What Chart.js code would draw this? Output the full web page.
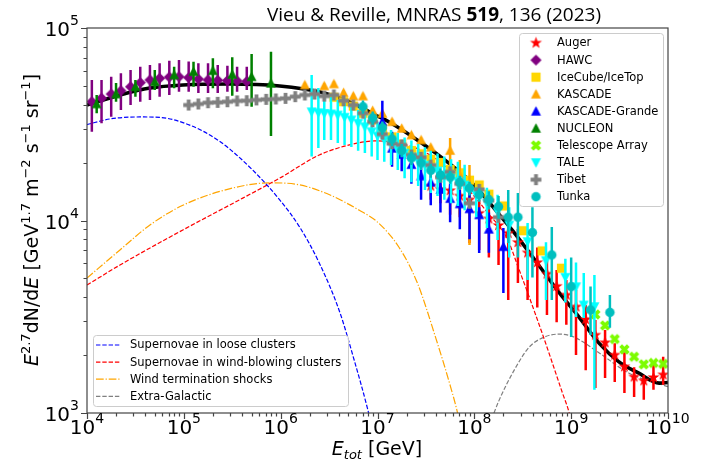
<!DOCTYPE html>
<html>
<head>
<meta charset="utf-8">
<title>Cosmic-ray all-particle spectrum</title>
<script src="https://cdn.jsdelivr.net/npm/chart.js@4.4.1/dist/chart.umd.min.js"></script>
<style>
  html, body { margin: 0; padding: 0; background: #fff; }
  canvas { display: block; }
</style>
</head>
<body>
<canvas id="spectrum" width="701" height="464"></canvas>
<script>
// ---- model curves: E [GeV] and E^2.7 dN/dE ----
const totalE = [1e4, 2.19e4, 4.47e4, 9.77e4, 2.95e5, 9.77e5, 2.51e6, 5.13e6, 9.55e6, 1.32e7, 2.88e7, 5.5e7, 9.55e7, 1.82e8, 2.45e8, 5.5e8, 7.59e8, 1.2e9, 1.95e9, 3.09e9, 5.0e9, 8.13e9, 1e10];
const totalF = [39800, 44900, 48800, 50600, 51200, 50000, 46600, 41300, 35300, 32500, 25200, 19800, 15600, 10700, 8930, 5210, 4190, 3160, 2300, 1850, 1610, 1430, 1440];

const looseE = [1e4, 1.73e4, 3.52e4, 5.66e4, 1.15e5, 2.34e5, 5.13e5, 9.77e5, 1.58e6, 2.51e6, 4.07e6, 5.75e6, 7.94e6, 1.05e7];
const looseF = [31500, 33700, 34500, 34300, 31300, 25800, 18300, 12800, 9200, 6000, 3350, 1880, 1040, 570];

const windE = [1e4, 2.19e4, 9.77e4, 2.95e5, 9.77e5, 2.51e6, 5.13e6, 9.34e6, 1.66e7, 3.47e7, 7.08e7, 1.43e8, 2.14e8, 2.91e8, 5.0e8, 8.13e8, 9.55e8, 1.1e9];
const windF = [4620, 5870, 8930, 12000, 16600, 21900, 24700, 25900, 25300, 21900, 16200, 10700, 8230, 5530, 2610, 1270, 1000, 724];

const wtsE = [1e4, 2.19e4, 4.47e4, 9.77e4, 2.95e5, 7.76e5, 1.58e6, 3.2e6, 6.49e6, 1e7, 1.66e7, 2.57e7, 4.0e7, 5.8e7, 6.68e7, 7.35e7, 8.5e7];
const wtsF = [5030, 7030, 9480, 12000, 14600, 15700, 15300, 13600, 11300, 9810, 7280, 4760, 2450, 1320, 1010, 800, 560];

const egE = [1.43e8, 1.81e8, 2.58e8, 3.69e8, 5.27e8, 7.52e8, 1.07e9, 1.95e9, 3.96e9, 1e10];
const egF = [867, 1170, 1670, 2200, 2480, 2570, 2480, 2050, 1610, 1370];

// ---- measurements ----
const augerE = [3.548e7, 4.467e7, 5.623e7, 7.079e7, 8.913e7, 1.122e8, 1.413e8, 1.778e8, 2.239e8, 2.818e8, 3.548e8, 4.467e8, 5.623e8, 7.079e8, 8.913e8, 1.122e9, 1.413e9, 1.778e9, 2.239e9, 2.818e9, 3.548e9, 4.467e9, 5.623e9, 7.079e9, 8.913e9];
const augerF = [15100, 14500, 14300, 13400, 12800, 10900, 10200, 9420, 8580, 7690, 6790, 6050, 5270, 4550, 4100, 3560, 3060, 2540, 2320, 2000, 1740, 1540, 1470, 1530, 1580];
const augerHi = [16200, 15600, 15300, 14400, 13900, 12800, 12000, 11300, 10200, 9040, 8050, 7250, 6480, 5530, 4910, 4360, 3640, 3040, 2700, 2300, 2070, 1730, 1570, 1840, 1960];
const augerLo = [12800, 12300, 10700, 10400, 7650, 7030, 6430, 5870, 3860, 4730, 3860, 3530, 3230, 2960, 2870, 2000, 1670, 1350, 1520, 1450, 1270, 1210, 1170, 1320, 1400];

const hawcE = [1.122e4, 1.413e4, 1.778e4, 2.239e4, 2.818e4, 3.548e4, 4.467e4, 5.623e4, 7.079e4, 8.913e4, 1.122e5, 1.413e5, 1.778e5, 2.239e5, 2.818e5, 3.548e5, 4.467e5];
const hawcF = [41400, 43200, 45400, 47200, 49500, 52000, 53700, 54800, 55600, 55800, 55200, 54300, 53700, 53500, 53300, 53100, 52800];
const hawcHi = [53700, 53700, 55800, 58200, 60500, 62900, 64300, 65600, 67600, 68200, 66900, 65600, 65600, 64300, 63600, 62900, 62900];
const hawcLo = [28900, 32000, 34600, 37500, 39800, 41400, 42300, 44000, 44900, 46700, 46600, 46000, 46000, 46000, 46600, 46600, 47600];

const icetopE = [3.548e6, 4.467e6, 5.623e6, 7.079e6, 8.913e6, 1.122e7, 1.413e7, 1.778e7, 2.239e7, 2.818e7, 3.548e7, 4.467e7, 5.623e7, 7.079e7, 8.913e7, 1.122e8, 1.413e8, 1.995e8, 3.162e8, 5.012e8, 7.943e8];
const icetopF = [43700, 41400, 39300, 36100, 33300, 30100, 27200, 24900, 23100, 22200, 20800, 20000, 18400, 17700, 16200, 15300, 13700, 11900, 8850, 6950, 5650];

const kascadeE = [1.778e6, 2.818e6, 3.548e6, 4.467e6, 5.623e6, 7.079e6, 8.913e6, 1.122e7, 1.413e7, 1.778e7, 2.239e7, 2.818e7, 3.548e7, 5.623e7, 7.079e7, 8.913e7];
const kascadeF = [50600, 50000, 51200, 46100, 44300, 44300, 37200, 36000, 32600, 30100, 27800, 26200, 24000, 23100, 17200, 15300];
const kascadeHi = [52000, 51500, 52700, 47500, 45600, 45600, 38300, 37100, 33600, 31000, 28600, 27000, 24700, 26800, 20600, 19400];
const kascadeLo = [49200, 48600, 49800, 44800, 43000, 43000, 36100, 35000, 31600, 29200, 27000, 25400, 23300, 18600, 10700, 7460];

const grandeE = [1.122e7, 1.413e7, 1.778e7, 2.239e7, 2.818e7, 3.548e7, 4.467e7, 5.623e7, 7.079e7, 8.913e7, 1.122e8, 1.413e8, 1.995e8];
const grandeF = [32600, 23700, 22000, 19500, 17000, 15800, 14500, 13000, 12200, 11500, 10700, 9000, 7310];
const grandeHi = [41900, 28900, 25500, 23000, 19900, 18500, 17000, 15500, 14500, 14000, 11700, 11000, 9140];
const grandeLo = [31000, 19000, 18000, 15500, 12800, 12000, 11000, 9800, 9000, 8000, 6780, 6800, 4200];

const nucleonE = [1.259e4, 1.995e4, 3.162e4, 5.012e4, 7.943e4, 1.259e5, 1.995e5, 3.162e5, 5.012e5, 7.943e5];
const nucleonF = [40300, 45400, 49500, 52600, 57000, 59300, 60000, 57400, 55800, 51600];
const nucleonHi = [44900, 51800, 53700, 60500, 62900, 66800, 69600, 70500, 73300, 75300];
const nucleonLo = [36100, 41400, 44000, 47600, 48600, 49500, 48600, 44500, 39000, 27500];

const taE = [1.778e9, 2.239e9, 2.818e9, 3.548e9, 4.467e9, 5.623e9, 7.079e9, 8.913e9];
const taF = [3250, 2850, 2420, 2140, 1960, 1790, 1820, 1800];

const taleE = [2.09e6, 2.45e6, 2.82e6, 3.31e6, 3.89e6, 4.57e6, 5.37e6, 6.31e6, 7.41e6, 8.71e6, 1.0e7, 1.175e7, 1.38e7, 1.62e7, 1.905e7, 2.24e7, 2.63e7, 3.09e7, 3.55e7, 4.17e7, 4.9e7, 5.75e7, 6.76e7, 7.94e7, 1.047e8, 1.349e8, 1.738e8, 2.291e8, 3.548e8, 5.495e8, 8.71e8, 1.122e9, 1.349e9, 1.738e9];
const taleF = [36700, 36300, 36000, 35800, 35300, 34400, 33300, 32000, 30700, 28900, 27500, 26200, 24700, 23400, 22400, 21400, 20400, 19400, 18700, 18100, 17200, 16600, 16000, 15300, 13600, 12300, 11100, 9480, 7770, 6190, 5070, 4530, 3640, 3570];
const taleHi = [57000, 48800, 45900, 44000, 42300, 40800, 39000, 37500, 36200, 34100, 32600, 31300, 29500, 28500, 27000, 26000, 25000, 24000, 23000, 22300, 21500, 20800, 20200, 19500, 14900, 14800, 13600, 11700, 9700, 7700, 6330, 6050, 5330, 5210];
const taleLo = [21500, 23800, 26200, 26200, 25300, 24700, 24100, 23000, 22400, 21500, 20600, 20200, 19400, 18300, 16600, 15800, 15100, 14400, 13900, 13400, 12800, 12300, 11900, 11300, 10400, 9140, 7920, 6430, 4910, 3860, 3750, 3150, 3120, 1320];

const tibetE = [1.122e5, 1.413e5, 1.778e5, 2.239e5, 2.818e5, 3.548e5, 4.467e5, 5.623e5, 7.079e5, 8.913e5, 1.122e6, 1.413e6, 1.778e6, 2.239e6, 2.818e6, 3.548e6, 4.467e6, 5.623e6, 7.079e6, 8.913e6, 1.122e7, 1.413e7, 1.778e7, 2.239e7, 2.818e7, 3.548e7, 4.467e7, 5.623e7, 7.079e7, 8.913e7, 1.122e8, 1.413e8, 1.778e8];
const tibetF = [39800, 40300, 40900, 41100, 41400, 41800, 41900, 42300, 42600, 42800, 43100, 44000, 44900, 45400, 44300, 44900, 41900, 39800, 36100, 32600, 28100, 25100, 24700, 21900, 21300, 19400, 16800, 17900, 15500, 12300, 14500, 12700, 10400];

const tunkaE = [7.079e6, 8.913e6, 1.122e7, 1.413e7, 1.778e7, 2.239e7, 2.818e7, 3.548e7, 4.467e7, 5.623e7, 7.079e7, 8.913e7, 1.122e8, 1.413e8, 1.778e8, 2.239e8, 2.818e8, 3.981e8, 6.31e8, 1e9, 1.585e9, 2.512e9];
const tunkaF = [39000, 34100, 30300, 26500, 23100, 21100, 19900, 18200, 17200, 16800, 15800, 14700, 13600, 12800, 11800, 10400, 10400, 8650, 6620, 4530, 3430, 3330];
const tunkaHi = [42000, 36800, 32700, 28600, 25000, 22800, 21500, 19700, 18600, 18100, 17100, 15900, 14700, 14200, 13400, 14400, 13900, 11700, 9260, 6430, 4540, 4100];
const tunkaLo = [35900, 31400, 27900, 24400, 21300, 19400, 18300, 16700, 15800, 15500, 14500, 13500, 12500, 11400, 10200, 7650, 6430, 5050, 3860, 2480, 2540, 2770];

// ---- axes ----
const xMajor = [1e4, 1e5, 1e6, 1e7, 1e8, 1e9, 1e10];
const xMajorExp = ['4', '5', '6', '7', '8', '9', '10'];
const yMajor = [1e3, 1e4, 1e5];
const yMajorExp = ['3', '4', '5'];

const SANS = '"DejaVu Sans", sans-serif';

function makeMarker(shape, color) {
    const c = document.createElement('canvas');
    c.width = 15; c.height = 15;
    const g = c.getContext('2d');
    g.translate(7.5, 7.5);
    g.fillStyle = color;
    g.beginPath();
    if (shape === 'star') {
        for (let k = 0; k < 10; k++) {
            const r = k % 2 ? 2.5 : 6.3, a = -Math.PI / 2 + k * Math.PI / 5;
            g.lineTo(r * Math.cos(a), r * Math.sin(a));
        }
    } else if (shape === 'diamond') {
        g.moveTo(0, -5.6); g.lineTo(5.6, 0); g.lineTo(0, 5.6); g.lineTo(-5.6, 0);
    } else if (shape === 'square') {
        g.rect(-4.6, -4.6, 9.2, 9.2);
    } else if (shape === 'triUp') {
        g.moveTo(0, -5.2); g.lineTo(5, 4.2); g.lineTo(-5, 4.2);
    } else if (shape === 'triDown') {
        g.moveTo(0, 5.2); g.lineTo(5, -4.2); g.lineTo(-5, -4.2);
    } else if (shape === 'circle') {
        g.arc(0, 0, 4.7, 0, Math.PI * 2);
    } else {
        if (shape === 'x') g.rotate(Math.PI / 4);
        const a = 5.4, b = 1.9;
        g.moveTo(-b, -a); g.lineTo(b, -a); g.lineTo(b, -b); g.lineTo(a, -b);
        g.lineTo(a, b); g.lineTo(b, b); g.lineTo(b, a); g.lineTo(-b, a);
        g.lineTo(-b, b); g.lineTo(-a, b); g.lineTo(-a, -b); g.lineTo(-b, -b);
    }
    g.closePath();
    g.fill();
    return c;
}

const pts = (xs, ys) => xs.map((x, i) => ({ x: x, y: ys[i] }));

const measurements = [
    { label: 'Auger', E: augerE, F: augerF, hi: augerHi, lo: augerLo, shape: 'star', color: '#ff0000' },
    { label: 'HAWC', E: hawcE, F: hawcF, hi: hawcHi, lo: hawcLo, shape: 'diamond', color: '#800080' },
    { label: 'IceCube/IceTop', E: icetopE, F: icetopF, shape: 'square', color: '#ffd700' },
    { label: 'KASCADE', E: kascadeE, F: kascadeF, hi: kascadeHi, lo: kascadeLo, shape: 'triUp', color: '#ffa500' },
    { label: 'KASCADE-Grande', E: grandeE, F: grandeF, hi: grandeHi, lo: grandeLo, shape: 'triUp', color: '#0000ff' },
    { label: 'NUCLEON', E: nucleonE, F: nucleonF, hi: nucleonHi, lo: nucleonLo, shape: 'triUp', color: '#008000' },
    { label: 'Telescope Array', E: taE, F: taF, shape: 'x', color: '#7cfc00' },
    { label: 'TALE', E: taleE, F: taleF, hi: taleHi, lo: taleLo, shape: 'triDown', color: '#00ffff' },
    { label: 'Tibet', E: tibetE, F: tibetF, shape: 'plus', color: '#808080' },
    { label: 'Tunka', E: tunkaE, F: tunkaF, hi: tunkaHi, lo: tunkaLo, shape: 'circle', color: '#00bfbf' }
];

const models = [
    { label: 'Total', E: totalE, F: totalF, color: '#000000', width: 3.6, dash: [] },
    { label: 'Supernovae in loose clusters', E: looseE, F: looseF, color: '#0000ff', width: 1.2, dash: [4.4, 1.9] },
    { label: 'Supernovae in wind-blowing clusters', E: windE, F: windF, color: '#ff0000', width: 1.2, dash: [4.4, 1.9] },
    { label: 'Wind termination shocks', E: wtsE, F: wtsF, color: '#ffa500', width: 1.2, dash: [7.7, 1.9, 1.2, 1.9] },
    { label: 'Extra-Galactic', E: egE, F: egF, color: '#808080', width: 1.2, dash: [4.4, 1.9] }
];

const datasets = [];
measurements.forEach((m, i) => {
    m.marker = makeMarker(m.shape, m.color);
    datasets.push({
        label: m.label,
        data: pts(m.E, m.F),
        errHi: m.hi, errLo: m.lo, errColor: m.color,
        pointStyle: m.marker,
        pointRadius: 5,
        showLine: false,
        order: 20 - i
    });
});
models.forEach((m, i) => {
    datasets.push({
        label: m.label,
        data: pts(m.E, m.F),
        showLine: true,
        borderColor: m.color,
        borderWidth: m.width,
        borderDash: m.dash,
        pointRadius: 0,
        cubicInterpolationMode: 'monotone',
        fill: false,
        order: i === 0 ? 30 : 31
    });
});

// error bars drawn just before each dataset's markers
const errorBars = {
    id: 'errorBars',
    beforeDatasetDraw(chart, args) {
        const ds = chart.data.datasets[args.index];
        if (!ds.errHi) return;
        const { ctx, chartArea: a } = chart;
        const xs = chart.scales.x, ys = chart.scales.y;
        ctx.save();
        ctx.beginPath();
        ctx.rect(a.left, a.top, a.right - a.left, a.bottom - a.top);
        ctx.clip();
        ctx.strokeStyle = ds.errColor;
        ctx.lineWidth = 2.5;
        ctx.beginPath();
        ds.data.forEach((p, i) => {
            const px = xs.getPixelForValue(p.x);
            ctx.moveTo(px, ys.getPixelForValue(ds.errHi[i]));
            ctx.lineTo(px, ys.getPixelForValue(ds.errLo[i]));
        });
        ctx.stroke();
        ctx.restore();
    }
};

function rich(ctx, parts, x, y, align) {
    let w = 0;
    parts.forEach(p => { ctx.font = p.f; w += ctx.measureText(p.t).width; });
    let cx = align === 'center' ? x - w / 2 : align === 'right' ? x - w : x;
    parts.forEach(p => {
        ctx.font = p.f;
        ctx.fillText(p.t, cx, y + (p.dy || 0));
        cx += ctx.measureText(p.t).width;
    });
}

// axes frame, ticks, labels, title and both legends
const decorations = {
    id: 'decorations',
    afterDraw(chart) {
        const { ctx, chartArea: a } = chart;
        const xs = chart.scales.x, ys = chart.scales.y;
        const big = '20px ' + SANS, sup = '14px ' + SANS;
        ctx.save();
        ctx.textAlign = 'left';
        ctx.textBaseline = 'alphabetic';

        // frame
        ctx.strokeStyle = '#444';
        ctx.lineWidth = 1.2;
        ctx.strokeRect(a.left, a.top, a.right - a.left, a.bottom - a.top);

        // ticks
        ctx.beginPath();
        xMajor.forEach(v => {
            for (let m = 1; m <= 9; m++) {
                const val = v * m;
                if (val > xMajor[xMajor.length - 1]) break;
                const px = Math.round(xs.getPixelForValue(val)) + 0.5;
                ctx.moveTo(px, a.bottom);
                ctx.lineTo(px, a.bottom + (m === 1 ? 6 : 3.5));
            }
        });
        yMajor.forEach(v => {
            for (let m = 1; m <= 9; m++) {
                const val = v * m;
                if (val > yMajor[yMajor.length - 1]) break;
                const py = Math.round(ys.getPixelForValue(val)) + 0.5;
                ctx.moveTo(a.left, py);
                ctx.lineTo(a.left - (m === 1 ? 6 : 3.5), py);
            }
        });
        ctx.stroke();

        // tick labels
        ctx.fillStyle = '#000';
        xMajor.forEach((v, k) => {
            rich(ctx, [{ t: '10', f: big }, { t: xMajorExp[k], f: sup, dy: -11 }], xs.getPixelForValue(v), 434, 'center');
        });
        yMajor.forEach((v, k) => {
            const py = ys.getPixelForValue(v);
            rich(ctx, [{ t: '10', f: big }, { t: yMajorExp[k], f: sup, dy: -11 }], 79, py + 8, 'right');
        });

        // axis titles
        const lab = '19px ' + SANS, labI = 'italic 19px ' + SANS, labS = '13px ' + SANS, labSI = 'italic 13px ' + SANS;
        rich(ctx, [{ t: 'E', f: labI }, { t: 'tot', f: labSI, dy: 4 }, { t: ' [GeV]', f: lab }], 377, 455, 'center');
        ctx.save();
        ctx.translate(38, 220);
        ctx.rotate(-Math.PI / 2);
        rich(ctx, [
            { t: 'E', f: labI }, { t: '2.7', f: labS, dy: -8 }, { t: 'dN/d', f: lab }, { t: 'E', f: labI },
            { t: ' [GeV', f: lab }, { t: '1.7', f: labS, dy: -8 }, { t: ' m', f: lab }, { t: '\u22122', f: labS, dy: -8 },
            { t: ' s', f: lab }, { t: '\u22121', f: labS, dy: -8 }, { t: ' sr', f: lab }, { t: '\u22121', f: labS, dy: -8 },
            { t: ']', f: lab }
        ], 0, 0, 'center');
        ctx.restore();

        // title
        const tf = '19px "Open Sans", sans-serif', tb = 'bold 19px "Open Sans", sans-serif';
        rich(ctx, [{ t: 'Vieu & Reville, MNRAS ', f: tf }, { t: '519', f: tb }, { t: ', 136 (2023)', f: tf }], 434, 21, 'center');

        // legend boxes
        const box = (x, y, w, h) => {
            ctx.beginPath();
            if (ctx.roundRect) ctx.roundRect(x, y, w, h, 3); else ctx.rect(x, y, w, h);
            ctx.fillStyle = 'rgba(255,255,255,0.8)';
            ctx.fill();
            ctx.strokeStyle = '#cccccc';
            ctx.lineWidth = 1;
            ctx.stroke();
        };
        ctx.font = '11.5px ' + SANS;
        ctx.textBaseline = 'middle';

        box(519.5, 33.5, 144, 173);
        measurements.forEach((m, i) => {
            const y = 43 + i * 17.08;
            ctx.drawImage(m.marker, 536 - 7.5, y - 7.5);
            ctx.fillStyle = '#000';
            ctx.fillText(m.label, 557, y + 0.5);
        });

        box(93.5, 335.5, 255, 71);
        models.slice(1).forEach((m, i) => {
            const y = 345 + i * 17.1;
            ctx.beginPath();
            ctx.setLineDash(m.dash);
            ctx.strokeStyle = m.color;
            ctx.lineWidth = m.width;
            ctx.moveTo(96, y);
            ctx.lineTo(121, y);
            ctx.stroke();
            ctx.setLineDash([]);
            ctx.fillStyle = '#000';
            ctx.fillText(m.label, 130, y + 0.5);
        });
        ctx.restore();
    }
};

const chart = new Chart(document.getElementById('spectrum'), {
    type: 'scatter',
    data: { datasets: datasets },
    options: {
        responsive: false,
        animation: false,
        devicePixelRatio: 1,
        events: [],
        layout: { padding: { top: 28, right: 33, left: 0, bottom: 0 } },
        plugins: { legend: { display: false }, tooltip: { enabled: false }, title: { display: false } },
        scales: {
            x: {
                type: 'logarithmic', min: 1e4, max: 1e10,
                ticks: { display: false }, grid: { display: false }, border: { display: false },
                afterFit: s => { s.height = 51; }
            },
            y: {
                type: 'logarithmic', min: 1e3, max: 1e5,
                ticks: { display: false }, grid: { display: false }, border: { display: false },
                afterFit: s => { s.width = 87; }
            }
        }
    },
    plugins: [errorBars, decorations]
});
</script>
</body>
</html>
